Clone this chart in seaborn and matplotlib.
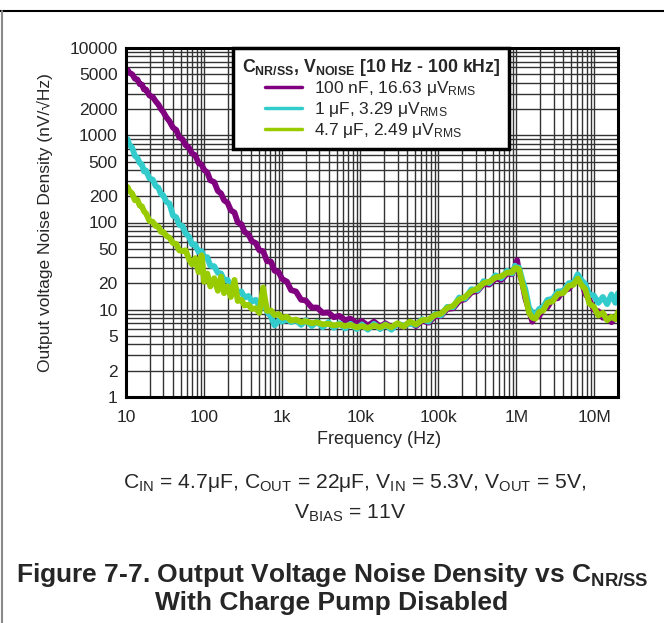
import numpy as np
import pandas as pd
import matplotlib
matplotlib.use("Agg")
import matplotlib.pyplot as plt
import seaborn as sns
from matplotlib.lines import Line2D
from matplotlib.ticker import FixedLocator, FixedFormatter, LogLocator, NullFormatter

# --- Data ---
freq_hz = [
    10.5, 11, 12, 13, 14, 15, 16, 17, 18, 20,
    22, 24, 26, 28, 30, 33, 36, 40, 44, 48,
    53, 58, 64, 70, 77, 85, 93, 100, 110, 120,
    135, 150, 165, 180, 200, 220, 245, 270, 300, 330,
    370, 410, 460, 510, 570, 640, 720, 800, 900, 1000,
    1150, 1300, 1500, 1750, 2000, 2400, 2800, 3300, 3900, 4600,
    5400, 6400, 7500, 9000, 10500, 12500, 15000, 18000, 21000, 25000,
    30000, 36000, 43000, 52000, 62000, 75000, 90000, 108000, 130000, 155000,
    185000, 220000, 265000, 320000, 380000, 450000, 540000, 640000, 760000, 880000,
    960000, 1020000, 1080000, 1180000, 1300000, 1450000, 1600000, 1750000, 1950000, 2200000,
    2500000, 2900000, 3400000, 4000000, 4700000, 5400000, 6100000, 6800000, 7600000, 8600000,
    9800000, 11200000, 12800000, 14500000, 16500000, 18500000, 20000000,
]

noise_100nf = [
    5600, 5200, 5000, 4450, 4350, 3850, 3800, 3350, 3350, 2850,
    2750, 2450, 2250, 2000, 1850, 1600, 1450, 1220, 1150, 950,
    900, 770, 720, 620, 590, 480, 460, 400, 375, 305,
    290, 230, 215, 180, 168, 138, 130, 100, 96, 78,
    73, 61, 58, 48, 47, 36, 35.5, 28, 27, 22.5,
    21, 16.8, 16.2, 13, 12.8, 10.6, 10.6, 9.2, 9.3, 8.2,
    8.5, 7.6, 7.9, 7.0, 7.4, 6.6, 7.3, 6.4, 7.0, 6.3,
    6.8, 6.4, 7.2, 6.5, 7.5, 7.1, 8.4, 8.5, 10.2, 10.4,
    12.6, 13.2, 15.8, 16.5, 19.8, 19.4, 22.8, 22.0, 26.0, 25.5,
    31, 37, 27, 21, 13.5, 9.9, 7.3, 8.3, 8.4, 10.3,
    10.7, 13.3, 13.6, 16.6, 17.4, 20.5, 21.2, 21.2, 15.3, 13.0,
    10.0, 9.6, 8.1, 8.3, 7.2, 8.1, 8.2,
]

noise_1uf = [
    900, 780, 720, 580, 550, 480, 460, 385, 395, 320,
    310, 262, 250, 212, 205, 172, 165, 120, 115, 94,
    91, 75, 69, 56, 56, 46, 47, 40, 40, 32,
    31.5, 26.5, 26, 22, 22, 18.5, 18.8, 15.8, 16.2, 13.8,
    14.4, 12.4, 13, 11, 12.5, 9.5, 8.3, 6.6, 7.5, 7.3,
    7.8, 7.2, 7.6, 6.7, 7.6, 6.5, 7.3, 6.3, 7.2, 6.2,
    7.0, 6.1, 6.9, 6.0, 6.8, 5.9, 6.9, 6.0, 6.8, 5.9,
    6.9, 6.6, 6.9, 6.7, 7.8, 7.3, 8.9, 8.6, 10.8, 10.7,
    13.8, 13.4, 17.2, 16.8, 21.3, 20.2, 24.8, 23.0, 28.0, 26.0,
    32, 29, 30.5, 22.5, 17.2, 10.6, 9.2, 8.7, 10.2, 10.8,
    13.0, 13.3, 16.2, 16.4, 20.2, 20.3, 25.5, 21.8, 19.8, 14.9,
    14.6, 12.0, 14.0, 11.6, 15.0, 12.0, 15.5,
]

noise_4p7uf = [
    255, 230, 215, 180, 182, 156, 153, 134, 128, 104,
    102, 91, 90, 78, 78, 70, 67, 58, 57, 48,
    47, 48, 38, 33, 39, 27, 42, 21, 26, 18.5,
    23, 16.5, 24, 15.5, 18.5, 14, 22, 12.6, 13, 11.2,
    11.4, 10.2, 10.4, 9.2, 18, 9.7, 9.8, 8.7, 8.9, 8.1,
    8.3, 7.5, 7.7, 7.2, 7.4, 7.0, 7.2, 6.8, 6.9, 6.6,
    6.8, 6.5, 6.7, 6.3, 6.5, 6.2, 6.6, 6.3, 6.7, 6.3,
    7.0, 6.4, 7.3, 6.8, 7.6, 7.7, 8.7, 9.0, 10.5, 11.1,
    13.1, 14.0, 16.3, 17.6, 20.2, 21.0, 23.4, 24.2, 26.6, 27.0,
    30, 30, 29, 20.5, 14.5, 9.2, 8.1, 7.9, 9.4, 9.8,
    12.0, 12.5, 15.1, 15.6, 18.8, 19.4, 22.8, 19.2, 17.2, 11.8,
    10.8, 8.6, 9.2, 7.6, 8.3, 7.8, 9.4,
]

series_labels = [
    r"100 nF, 16.63 μV$_{\mathrm{RMS}}$",
    r"1 μF, 3.29 μV$_{\mathrm{RMS}}$",
    r"4.7 μF, 2.49 μV$_{\mathrm{RMS}}$",
]
series_colors = ["#800080", "#33CCCC", "#99CC00"]

y_ticks = [1, 2, 5, 10, 20, 50, 100, 200, 500, 1000, 2000, 5000, 10000]
y_tick_labels = [str(t) for t in y_ticks]
x_ticks = [10, 100, 1e3, 1e4, 1e5, 1e6, 1e7]
x_tick_labels = ["10", "100", "1k", "10k", "100k", "1M", "10M"]

# --- Build long-form table ---
df = pd.concat([
    pd.DataFrame({"freq": freq_hz, "noise": vals, "series": lab})
    for vals, lab in zip([noise_100nf, noise_1uf, noise_4p7uf], series_labels)
], ignore_index=True)

sns.set_style("white")
plt.rcParams["font.family"] = ["Liberation Sans", "DejaVu Sans"]
plt.rcParams["mathtext.fontset"] = "custom"
plt.rcParams["mathtext.rm"] = "Liberation Sans"
plt.rcParams["mathtext.bf"] = "Liberation Sans:bold"
plt.rcParams["mathtext.it"] = "Liberation Sans:italic"

fig = plt.figure(figsize=(6.64, 6.23), dpi=100)
ax = fig.add_axes([126 / 664, 1 - 397 / 623, 492 / 664, 349 / 623])

sns.lineplot(data=df, x="freq", y="noise", hue="series", hue_order=series_labels,
             palette=series_colors, estimator=None, sort=False, lw=4.2, ax=ax,
             legend=False)

ax.set_xscale("log")
ax.set_yscale("log")
ax.set_xlim(10, 2e7)
ax.set_ylim(1, 10000)

ax.xaxis.set_major_locator(FixedLocator(x_ticks))
ax.xaxis.set_major_formatter(FixedFormatter(x_tick_labels))
ax.xaxis.set_minor_locator(LogLocator(base=10, subs=np.arange(2, 10)))
ax.xaxis.set_minor_formatter(NullFormatter())
ax.yaxis.set_major_locator(FixedLocator(y_ticks))
ax.yaxis.set_major_formatter(FixedFormatter(y_tick_labels))
ax.yaxis.set_minor_locator(LogLocator(base=10, subs=np.arange(2, 10)))
ax.yaxis.set_minor_formatter(NullFormatter())

ax.grid(which="both", color="#333333", lw=1.0)
ax.set_axisbelow(True)
ax.tick_params(which="both", length=0, labelsize=12.5)
ax.tick_params(axis="x", pad=9)
ax.tick_params(axis="y", pad=6)
for sp in ax.spines.values():
    sp.set_color("black")
    sp.set_linewidth(2.2)

ax.set_xlabel("Frequency (Hz)", fontsize=13)
ax.set_ylabel("Output voltage Noise Density (nV/√Hz)", fontsize=12.5)
ax.xaxis.set_label_coords(0.514, -0.097)
ax.yaxis.set_label_coords(-0.148, 0.5)

# --- Legend ---
handles = [Line2D([0], [0], color=c, lw=2.5) for c in series_colors]
leg = ax.legend(handles, series_labels, loc="upper left", bbox_to_anchor=(0.2175, 1.0),
                borderaxespad=0, fontsize=12.5, handlelength=2.1, handletextpad=0.7,
                labelspacing=0.1, borderpad=0.5, frameon=True, fancybox=False,
                title=r"$\mathbf{C_{NR/SS}}$, $\mathbf{V_{NOISE}}$ [10 Hz - 100 kHz]",
                title_fontproperties={"weight": "bold", "size": 12.8})
leg.get_frame().set_edgecolor("black")
leg.get_frame().set_linewidth(2.5)
leg.get_frame().set_alpha(1)
leg.set_zorder(5)

# --- Captions ---
fig.text(355 / 664, 1 - 483 / 623,
         r"C$_{\mathrm{IN}}$ = 4.7μF, C$_{\mathrm{OUT}}$ = 22μF, V$_{\mathrm{IN}}$ = 5.3V, V$_{\mathrm{OUT}}$ = 5V,",
         ha="center", va="center", fontsize=15.2)
fig.text(350 / 664, 1 - 513 / 623, r"V$_{\mathrm{BIAS}}$ = 11V",
         ha="center", va="center", fontsize=15.2)
fig.text(332 / 664, 1 - 575 / 623,
         r"Figure 7-7. Output Voltage Noise Density vs C$_{\mathbf{NR/SS}}$",
         ha="center", va="center", fontsize=19, fontweight="bold")
fig.text(332 / 664, 1 - 603 / 623, "With Charge Pump Disabled",
         ha="center", va="center", fontsize=19, fontweight="bold")

# page frame pieces
fig.add_artist(Line2D([0, 1], [1 - 11 / 623] * 2, color="black", lw=1.5))
fig.add_artist(Line2D([1.5 / 664] * 2, [0, 1 - 11 / 623], color="#8a8a8a", lw=1.5))

fig.savefig("out.png", dpi=100)
plt.close(fig)
